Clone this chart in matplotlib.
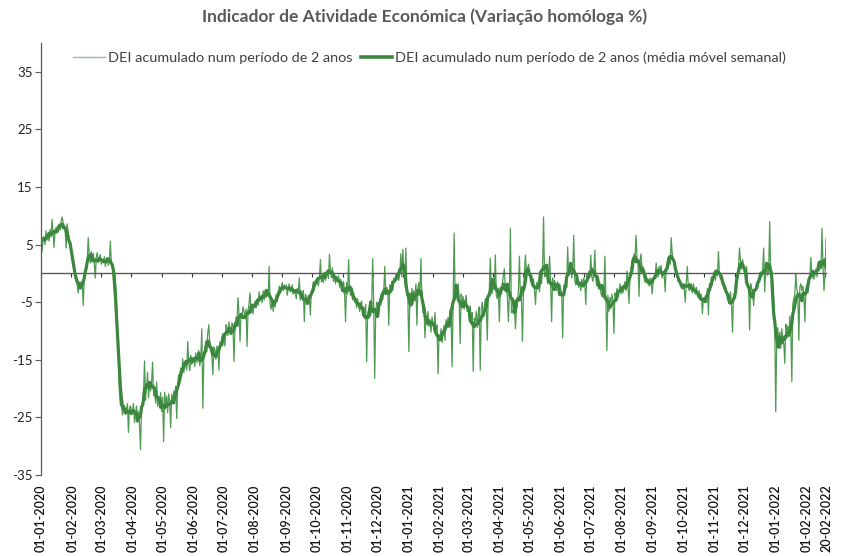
import matplotlib
matplotlib.use('Agg')
import matplotlib.pyplot as plt
import matplotlib.dates as mdates
import matplotlib.transforms as mtransforms
from matplotlib.lines import Line2D
import numpy as np
import pandas as pd

plt.rcParams['font.family'] = ['Lato', 'DejaVu Sans']
plt.rcParams['axes.unicode_minus'] = False

# DEI diario (variacao face a 2 anos antes), mes a mes
jan20 = [7.9, 3.8, 5.6, 6.4, 5.0, 7.4, 5.8, 6.8, 5.6, 7.6, 6.3, 9.4, 7.2, 4.5, 7.4, 8.0, 7.1, 7.8, 8.4, 7.5,
         9.0, 9.8, 8.9, 8.3, 7.6, 4.4, 8.6, 7.3, 6.1, 5.2, 4.0]
fev20 = [3.2, 2.0, 0.8, -0.6, -1.2, -2.0, -3.4, -1.5, -2.1, -1.4, -1.8, -5.6, -1.0, 0.2, 1.4, 2.4, 6.2, 3.0, 1.8, 3.8,
         2.2, 3.5, 1.9, -0.8, 2.8, 3.6, 2.0, 2.5, 3.3]
mar20 = [1.6, 2.4, 1.8, 2.9, 1.2, 2.2, 2.6, 1.4, 2.0, 5.6, 1.8, 0.9, 0.3, 0.5, -1.0, -4.0, -9.0, -15.0, -20.5, -23.0,
         -22.4, -24.6, -23.8, -22.9, -24.5, -23.5, -22.6, -27.6, -23.4, -23.0, -24.1]
abr20 = [-23.8, -22.6, -25.9, -24.4, -23.0, -25.2, -24.0, -26.3, -30.6, -23.2, -22.4, -20.8, -15.2, -22.0, -19.8,
         -17.2, -21.6, -18.9, -20.4, -19.0, -15.4, -21.2, -20.6, -22.5, -18.8, -23.1, -21.4, -22.9, -20.7, -24.0]
mai20 = [-21.5, -29.2, -20.6, -22.8, -21.3, -24.2, -20.9, -22.3, -26.8, -21.0, -22.6, -20.4, -21.8, -19.6, -25.2,
         -19.0, -17.6, -18.8, -16.4, -17.9, -14.8, -17.2, -16.0, -15.1, -16.8, -11.8, -15.6, -16.9, -14.2, -15.8, -14.6]
jun20 = [-14.6, -16.2, -13.8, -15.5, -14.2, -13.4, -16.0, -14.5, -9.6, -23.4, -14.8, -13.0, -11.8, -12.4, -10.2,
         -8.9, -12.6, -13.4, -14.3, -17.6, -12.8, -13.2, -14.9, -12.6, -13.5, -16.8, -11.9, -12.3, -11.0, -10.4]
jul20 = [-11.4, -12.6, -8.9, -9.5, -10.8, -8.4, -9.9, -10.6, -8.6, -9.2, -15.3, -9.0, -7.6, -8.2, -4.2, -7.0, -11.8,
         -6.9, -7.4, -5.8, -6.6, -7.9, -6.2, -12.7, -6.4, -5.2, -3.4, -6.8, -5.9, -7.0, -5.4]
ago20 = [-4.8, -6.0, -4.4, -5.6, -3.2, -4.5, -4.0, -5.1, -3.0, -4.6, -3.4, -4.2, -2.8, -4.0, 1.2, -5.4, -6.2, -4.8,
         -6.6, -5.0, -5.8, -3.6, -4.9, -3.8, -2.2, -3.5, -2.4, -1.6, -3.0, -2.0, -2.6]
set20 = [-2.0, -3.8, -2.6, -1.8, -3.2, -2.5, -2.0, -3.6, -2.8, -3.5, -4.4, -2.6, -3.2, -0.8, -4.6, -3.8, -4.2, -3.0,
         -8.4, -3.6, -4.0, -5.2, -3.8, -4.4, -7.2, -3.0, -2.6, -1.4, -2.4, -1.2]
out20 = [-1.8, -1.0, -2.2, -0.6, 2.4, -1.5, -0.8, -1.6, 0.2, -1.2, -0.4, 0.6, -0.9, 3.3, 0.4, -0.8, 1.0, -1.4, -0.2,
         -1.8, -0.6, -1.2, -0.4, -2.4, -1.0, -1.8, -2.6, -1.4, -3.2, -8.4, -1.6]
nov20 = [-3.6, 2.4, -2.6, -3.8, -2.4, -4.6, -3.4, -5.0, -4.2, -6.0, -4.4, -5.6, -6.6, -5.2, -4.8, -7.2, -6.0, -6.8,
         -5.4, -15.3, -7.0, -6.2, -5.8, -7.4, -5.2, 2.6, -5.6, -18.2, -6.8, -5.0]
dez20 = [-5.4, -6.8, -4.4, -5.6, -3.8, -4.6, -3.2, 1.2, -3.6, -2.4, -3.0, -9.0, -2.0, -2.8, -1.4, -2.2, -0.8, -1.6,
         -0.2, -1.0, -0.4, -1.2, 0.2, 3.4, -0.6, 4.2, 0.4, -1.0, 4.4, -2.8, -4.6]
jan21 = [-13.6, -3.4, -5.8, -2.6, -4.2, -3.0, -4.8, -1.8, -9.0, -2.4, -1.6, -3.4, 2.6, -4.6, -6.8, -5.6, -11.2, -7.4,
         -8.8, -6.6, -9.2, -8.0, -10.2, -7.6, -8.6, -9.8, -6.8, -10.4, -9.0, -17.4, -10.8]
fev21 = [-11.2, -9.6, -12.0, -10.4, -9.0, -11.6, -8.0, -9.4, -7.6, -8.8, -6.4, -7.8, -16.2, -5.6, 7.0, -3.2, -2.4,
         -4.0, -1.8, -4.4, -12.2, -3.6, -5.4, -4.0, -6.2, -4.8, -3.8, -6.6]
mar21 = [-6.0, -7.2, -5.6, -8.4, -6.8, -17.0, -7.8, -8.6, -6.6, -9.4, -7.0, -5.8, -16.8, -6.2, -5.0, -7.4, -6.0, -4.4,
         -5.2, -11.6, -3.6, -3.0, 2.6, -2.2, -3.4, -1.6, -2.8, 3.2, -3.8, -4.4, -2.6]
abr21 = [-8.4, -2.4, -3.6, -1.8, -0.4, 0.8, -3.0, -2.6, -4.0, -8.4, -3.6, 7.8, -6.8, -6.4, -7.0, -5.8, -9.6, -6.4,
         -5.4, -3.0, 3.0, -4.2, -4.6, -11.8, -3.2, 0.4, 3.2, -0.2, 0.8, 1.6]
mai21 = [0.6, -1.4, -0.8, -2.2, -1.0, -3.0, -5.4, -1.6, -2.6, -1.2, -3.2, -0.4, -1.8, 0.6, 9.8, -0.6, -0.2, 0.4, -1.8,
         -0.6, 3.0, -1.4, -8.4, -0.8, -2.6, -1.2, -2.0, -3.0, -1.4, -2.4, -1.8]
jun21 = [-2.6, -3.4, -11.2, -2.0, -3.0, -1.6, -2.4, 4.6, -0.4, 0.6, 1.2, -0.8, 0.4, 6.6, -1.2, -2.0, -0.6, -1.8, -2.4,
         -1.4, -3.0, -1.0, -2.2, -0.8, -1.6, -5.4, -0.2, -1.2, 0.4, -0.6]
jul21 = [3.2, -0.6, -1.4, 0.2, 4.0, -1.0, -2.2, -0.4, -2.8, -1.6, -3.4, -4.0, -2.2, -3.6, 3.0, -4.4, -13.4, -3.8, -6.6,
         -4.2, -5.0, -3.6, -4.8, -10.4, -3.4, -4.2, -2.6, -4.0, -3.2, -1.8, -3.6]
ago21 = [-2.2, -3.4, -2.6, -1.4, -3.0, 0.4, -2.4, -5.2, -0.6, 0.8, 2.2, 1.0, 3.4, 2.6, 6.6, 2.8, 1.6, -4.0, 2.4, 3.4,
         0.6, 1.2, -0.8, -1.6, -0.4, -1.8, -1.0, -2.2, -0.8, -1.4, -3.6]
set21 = [-1.6, -0.4, -0.8, 1.8, 0.2, -0.6, 1.2, 0.6, 1.4, -0.8, 0.4, -0.4, -3.2, 1.0, 2.0, 2.8, 2.2, 1.6, 6.2, 3.4,
         2.6, 1.8, 0.8, 0.2, -0.6, -1.4, -1.0, -2.2, -1.6, -2.6]
out21 = [-1.8, -2.8, -5.0, -1.6, 1.2, -2.4, -3.0, -2.0, -2.6, -3.4, -1.8, -2.8, -3.6, -2.4, -3.8, -4.2, -3.0, -4.6,
         -3.6, -7.0, -4.4, -5.0, -3.8, -4.4, -2.6, -7.2, -1.8, -2.4, -0.6, -1.4, -0.2]
nov21 = [0.4, -1.2, 0.6, -0.4, 3.8, -0.2, -1.0, -0.6, -2.0, -1.4, -2.8, -2.2, -3.4, -4.6, -3.8, -5.0, -3.2, -5.6,
         -10.2, -3.6, -4.0, -2.4, -2.2, -1.4, 1.4, 4.4, 2.0, 0.8, 2.4, 1.2]
dez21 = [0.6, -0.4, 1.2, -1.6, -2.4, -9.8, -1.8, -2.6, -3.2, -5.6, -2.8, -3.0, -1.6, -2.4, -0.8, -1.4, 0.2, -0.6, 0.8,
         4.4, -3.2, 0.6, 1.0, -0.4, 0.8, 9.0, -0.6, 0.4, -1.6, -4.2, -8.6]
jan22 = [-24.0, -11.0, -9.4, -12.6, -10.2, -13.0, -9.6, -11.4, -12.2, -15.6, -8.8, -10.0, -9.2, -11.0, -7.4, -9.8,
         -18.8, -5.2, -4.4, -3.6, 0.0, -2.8, -3.6, -11.6, -2.4, -1.8, -3.0, -2.2, -3.8, -8.4, -2.6]
fev22 = [-2.0, -3.4, -1.2, -0.4, 2.8, -0.8, 0.6, -1.0, -0.2, 0.8, -0.6, 1.6, 0.4, 2.2, 0.8, 7.8, 1.4, -3.0, -0.4, 6.0]

valores = (jan20 + fev20 + mar20 + abr20 + mai20 + jun20 + jul20 + ago20 + set20 + out20 + nov20 + dez20 +
           jan21 + fev21 + mar21 + abr21 + mai21 + jun21 + jul21 + ago21 + set21 + out21 + nov21 + dez21 +
           jan22 + fev22)
datas = pd.date_range('2020-01-01', periods=len(valores), freq='D')
dei = pd.Series(valores, index=datas)
dei_mm7 = dei.rolling(7, center=True, min_periods=4).mean()

# rotulos do eixo: inicio de cada mes + ultimo dia
rotulos = list(pd.date_range('2020-01-01', '2022-02-01', freq='MS')) + [datas[-1]]

lbl_diario = 'DEI acumulado num período de 2 anos'
lbl_mm = 'DEI acumulado num período de 2 anos (média móvel semanal)'
titulo = 'Indicador de Atividade Económica (Variação homóloga %)'

verde_fino = '#4f9a52'
verde_grosso = '#3b873e'
cinza = '#595959'

fig = plt.figure(figsize=(8.5, 5.56), dpi=100)
ax = fig.add_axes([41/850, 1 - 475/556, (826 - 41)/850, (475 - 43)/556])

ax.plot(datas, dei.values, color=verde_fino, lw=0.9, zorder=2)
ax.plot(datas, dei_mm7.values, color=verde_grosso, lw=2.3, zorder=3)

ax.set_xlim(datas[0], datas[-1])
ax.set_ylim(-35, 40)
ax.set_yticks(np.arange(-35, 36, 10))
ax.tick_params(axis='y', direction='out', length=4, width=0.8, colors=cinza, labelcolor='#222222',
               labelsize=9.5, pad=2)

# eixo horizontal a cruzar em zero, marcas a cada 30 dias
ax.spines['top'].set_visible(False)
ax.spines['right'].set_visible(False)
ax.spines['bottom'].set_position(('data', 0))
ax.spines['bottom'].set_color(cinza)
ax.spines['bottom'].set_linewidth(1.0)
ax.spines['left'].set_color(cinza)
ax.spines['left'].set_linewidth(0.9)
ax.set_xticks(datas[::30])
ax.tick_params(axis='x', direction='out', length=3, width=0.8, colors='#333333', labelbottom=False)

trans = mtransforms.blended_transform_factory(ax.transData, ax.transAxes)
for d in rotulos:
    ax.text(mdates.date2num(d), -0.022, d.strftime('%d-%m-%Y'), rotation=90, ha='center', va='top',
            transform=trans, fontsize=9, color='#111111', fontweight='semibold')

handles = [Line2D([], [], color='#8fc08f', lw=1.0), Line2D([], [], color=verde_grosso, lw=2.6)]
ax.legend(handles, [lbl_diario, lbl_mm], loc='upper center', bbox_to_anchor=(0.495, 1.01), ncol=2,
          frameon=False, fontsize=10.4, handlelength=2.2, handletextpad=0.2, columnspacing=0.6,
          labelcolor='#404040')

fig.text(0.5, 1 - 17/556, titulo, ha='center', va='center', fontsize=12.5, fontweight='bold', color='#595959')

fig.savefig('out.png', dpi=100)
